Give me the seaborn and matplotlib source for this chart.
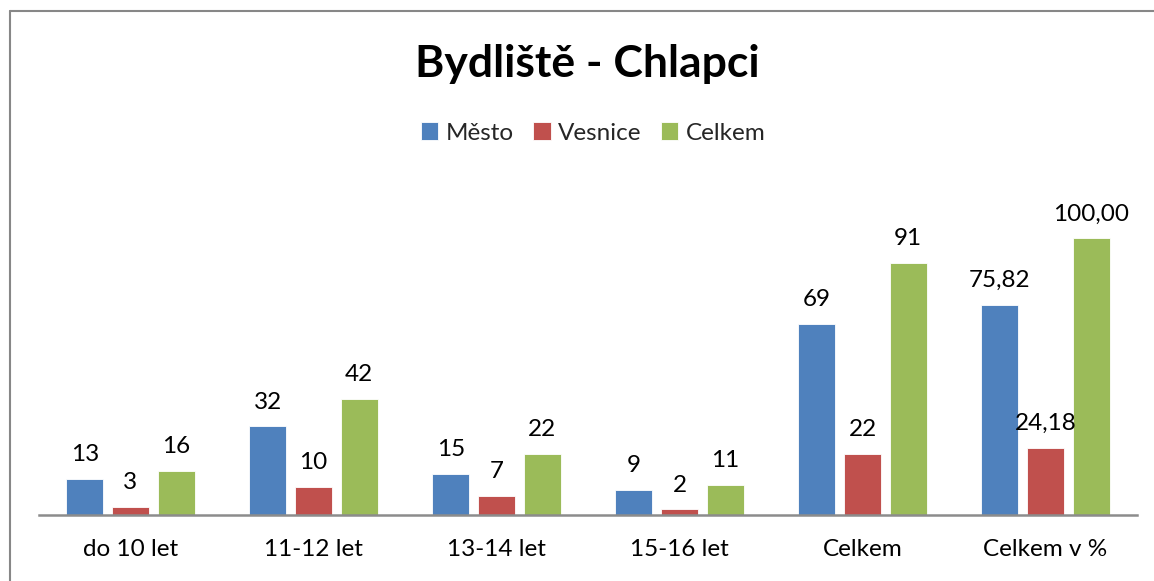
# Grouped bar chart: place of residence - boys
import pandas as pd
import seaborn as sns
import matplotlib.pyplot as plt
from matplotlib.lines import Line2D

# Data
kategorie = ['do 10 let', '11-12 let', '13-14 let', '15-16 let', 'Celkem', 'Celkem v %']
mesto = [13, 32, 15, 9, 69, 75.82]
vesnice = [3, 10, 7, 2, 22, 24.18]
celkem = [16, 42, 22, 11, 91, 100.00]
serie = ['Město', 'Vesnice', 'Celkem']

barvy = ['#4F81BD', '#C0504D', '#9BBB59']
FONT = 'Lato'


def make_df() -> pd.DataFrame:
    """Long format table for seaborn."""
    rows = []
    for nazev, hodnoty in zip(serie, [mesto, vesnice, celkem]):
        for kat, v in zip(kategorie, hodnoty):
            rows.append({'kategorie': kat, 'serie': nazev, 'hodnota': v})
    return pd.DataFrame(rows)


def main():
    sns.set_theme(style='white')
    plt.rcParams['font.family'] = [FONT, 'DejaVu Sans']

    df = make_df()

    fig = plt.figure(figsize=(11.54, 5.81), dpi=100)
    ax = fig.add_axes([39 / 1154, 66 / 581, 1098 / 1154, 332 / 581])

    sns.barplot(data=df, x='kategorie', y='hodnota', hue='serie',
                order=kategorie, hue_order=serie, palette=barvy,
                width=0.75, gap=0.2, saturation=1, ax=ax,
                edgecolor='white', linewidth=0.6)

    ax.set_xlim(-0.5, 5.5)
    ax.set_ylim(0, 120)

    # data labels, last category in percent with comma
    for cont, nazev in zip(ax.containers, serie):
        labels = []
        for kat, bar in zip(kategorie, cont):
            v = bar.get_height()
            if kat == 'Celkem v %':
                labels.append(f'{v:.2f}'.replace('.', ','))
            else:
                labels.append(f'{v:.0f}')
        ax.bar_label(cont, labels=labels, padding=10, fontsize=17.5, color='black')

    # axes styling
    for s in ['top', 'right', 'left']:
        ax.spines[s].set_visible(False)
    ax.spines['bottom'].set_color('#8C8C8C')
    ax.spines['bottom'].set_linewidth(1.8)
    ax.set_yticks([])
    ax.set_xlabel('')
    ax.set_ylabel('')
    ax.tick_params(axis='x', length=0, pad=17, labelsize=17.5, labelcolor='black')

    # legend on top under the title
    handles, labels = ax.get_legend_handles_labels()
    ax.get_legend().remove()
    fig.legend(handles, labels, loc='center', bbox_to_anchor=(0.514, 1 - 133 / 581),
               ncol=3, frameon=False, fontsize=17.5, handlelength=0.72, handleheight=0.72,
               handletextpad=0.3, columnspacing=0.8)

    fig.text(0.509, 1 - 64 / 581, 'Bydliště - Chlapci', ha='center', va='center',
             fontsize=32, fontweight='bold', color='black')

    # chart frame (only top and left are visible in the picture)
    fig.add_artist(Line2D([10 / 1154, 1], [1 - 11 / 581, 1 - 11 / 581],
                          transform=fig.transFigure, color='#878787', lw=1.5))
    fig.add_artist(Line2D([10 / 1154, 10 / 1154], [0, 1 - 11 / 581],
                          transform=fig.transFigure, color='#878787', lw=1.5))

    fig.savefig('out.png', dpi=100)


if __name__ == "__main__":
    main()
